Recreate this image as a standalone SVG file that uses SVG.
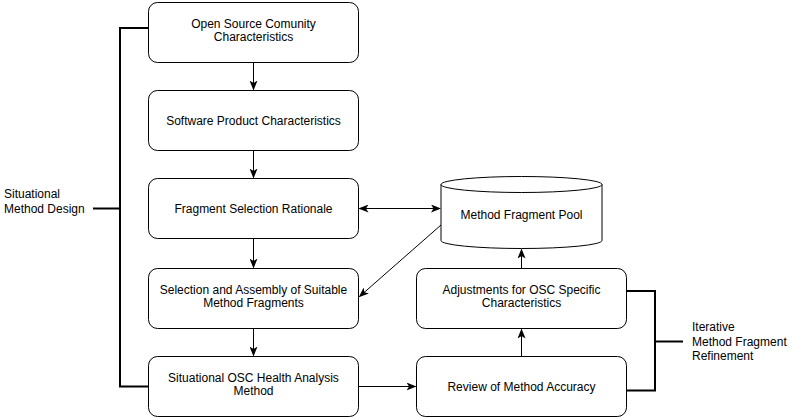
<svg xmlns="http://www.w3.org/2000/svg" width="792" height="418" viewBox="0 0 792 418">
<style>
.box{fill:#fff;stroke:#000;stroke-width:1}
.t{font-family:"Liberation Sans",Arial,sans-serif;font-size:12px;fill:#000;text-anchor:middle}
.lbl{font-family:"Liberation Sans",Arial,sans-serif;font-size:12px;fill:#000}
.c{fill:none;stroke:#000;stroke-width:1}
.br{fill:none;stroke:#000;stroke-width:2}
</style>
<defs>
<marker id="ah" viewBox="0 0 10 8" refX="9" refY="4" markerWidth="10" markerHeight="8" markerUnits="userSpaceOnUse" orient="auto-start-reverse">
<path d="M0,0 L10,4 L0,8 L2.5,4 z" fill="#000"/>
</marker>
</defs>
<rect width="792" height="418" fill="#fff"/>
<g id="connectors">
<line class="c" x1="253.5" y1="62.5" x2="253.5" y2="89.5" marker-end="url(#ah)"/>
<line class="c" x1="253.5" y1="150.5" x2="253.5" y2="177.5" marker-end="url(#ah)"/>
<line class="c" x1="253.5" y1="238.5" x2="253.5" y2="267.5" marker-end="url(#ah)"/>
<line class="c" x1="253.5" y1="328.5" x2="253.5" y2="355.5" marker-end="url(#ah)"/>
<line class="c" x1="359.5" y1="208.5" x2="440" y2="208.5" marker-start="url(#ah)" marker-end="url(#ah)"/>
<line class="c" x1="441" y1="225" x2="359.5" y2="296.5" marker-end="url(#ah)"/>
<line class="c" x1="358.5" y1="386.5" x2="415.5" y2="386.5" marker-end="url(#ah)"/>
<line class="c" x1="521.5" y1="356.5" x2="521.5" y2="329.5" marker-end="url(#ah)"/>
<line class="c" x1="521.5" y1="268.5" x2="521.5" y2="249.5" marker-end="url(#ah)"/>
<path class="br" d="M148,28 H120 V386.5 H148"/>
<line class="br" x1="93" y1="208.5" x2="120" y2="208.5"/>
<path class="br" d="M627,291 H655 V390.5 H627"/>
<line class="br" x1="655" y1="341.5" x2="683" y2="341.5"/>
</g>
<g id="n1">
<rect class="box" x="148.5" y="2.5" width="210" height="60" rx="9"/>
<text class="t" x="253.5" y="28">Open Source Comunity</text>
<text class="t" x="253.5" y="41">Characteristics</text>
</g>
<g id="n2">
<rect class="box" x="148.5" y="90.5" width="210" height="60" rx="9"/>
<text class="t" x="253.5" y="124.5">Software Product Characteristics</text>
</g>
<g id="n3">
<rect class="box" x="148.5" y="178.5" width="210" height="60" rx="9"/>
<text class="t" x="253.5" y="212.5">Fragment Selection Rationale</text>
</g>
<g id="n4">
<rect class="box" x="148.5" y="268.5" width="210" height="60" rx="9"/>
<text class="t" x="253.5" y="294">Selection and Assembly of Suitable</text>
<text class="t" x="253.5" y="307">Method Fragments</text>
</g>
<g id="n5">
<rect class="box" x="148.5" y="356.5" width="210" height="60" rx="9"/>
<text class="t" x="253.5" y="382">Situational OSC Health Analysis</text>
<text class="t" x="253.5" y="395">Method</text>
</g>
<g id="pool">
<path class="box" d="M441,184.5 A80.5,8 0 0 1 602,184.5 V240.5 A80.5,8 0 0 1 441,240.5 Z"/>
<path class="c" d="M441,184.5 A80.5,8 0 0 0 602,184.5"/>
<text class="t" x="521.5" y="218.5">Method Fragment Pool</text>
</g>
<g id="adj">
<rect class="box" x="416.5" y="268.5" width="210" height="60" rx="9"/>
<text class="t" x="521.5" y="294">Adjustments for OSC Specific</text>
<text class="t" x="521.5" y="307">Characteristics</text>
</g>
<g id="review">
<rect class="box" x="416.5" y="356.5" width="210" height="60" rx="9"/>
<text class="t" x="521.5" y="390.5">Review of Method Accuracy</text>
</g>
<g id="lbl-smd">
<text class="lbl" x="4" y="198">Situational</text>
<text class="lbl" x="4" y="212.5">Method Design</text>
</g>
<g id="lbl-imfr">
<text class="lbl" x="692" y="331">Iterative</text>
<text class="lbl" x="692" y="345.5">Method Fragment</text>
<text class="lbl" x="692" y="360">Refinement</text>
</g>
</svg>
